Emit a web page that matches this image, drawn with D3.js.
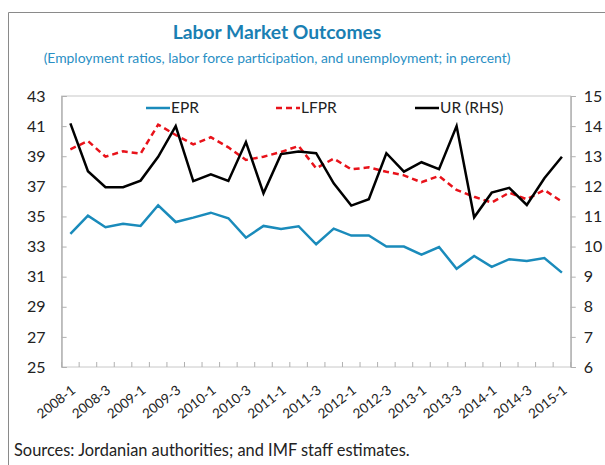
<!DOCTYPE html>
<html>
<head>
<meta charset="utf-8">
<script src="https://cdn.jsdelivr.net/npm/d3@7"></script>
<style>
  body { margin: 0; background: #fff; }
  svg { display: block; font-family: Lato, "Noto Sans", sans-serif; }
</style>
</head>
<body>
<svg id="chart" width="605" height="465"></svg>
<script>
var quarters = ['2008-1','2008-2','2008-3','2008-4','2009-1','2009-2','2009-3','2009-4',
  '2010-1','2010-2','2010-3','2010-4','2011-1','2011-2','2011-3','2011-4',
  '2012-1','2012-2','2012-3','2012-4','2013-1','2013-2','2013-3','2013-4',
  '2014-1','2014-2','2014-3','2014-4','2015-1'];
var epr = [33.84, 35.05, 34.28, 34.52, 34.37, 35.74, 34.63, 34.92, 35.25, 34.88, 33.59, 34.37, 34.17, 34.35,
  33.15, 34.19, 33.73, 33.73, 33.0, 33.0, 32.46, 32.97, 31.53, 32.38, 31.65, 32.16, 32.04, 32.24, 31.27];
var lfpr = [39.46, 40.01, 38.97, 39.33, 39.17, 41.1, 40.41, 39.79, 40.26, 39.59, 38.75, 38.97, 39.28, 39.68,
  38.2, 38.84, 38.13, 38.26, 37.97, 37.73, 37.27, 37.69, 36.76, 36.31, 35.92, 36.58, 36.14, 36.76, 35.98];
var ur = [14.09, 12.5, 11.97, 11.97, 12.19, 12.98, 14.0, 12.17, 12.4, 12.18, 13.47, 11.77, 13.07, 13.16,
  13.1, 12.1, 11.36, 11.57, 13.1, 12.49, 12.8, 12.57, 14.0, 10.97, 11.79, 11.95, 11.38, 12.27, 12.98];
var leftTicks = [25, 27, 29, 31, 33, 35, 37, 39, 41, 43];
var rightTicks = [6, 7, 8, 9, 10, 11, 12, 13, 14, 15];
var xLabels = quarters.filter((q, i) => i % 2 == 0);

var svg = d3.select('#chart');
var m = {left: 61.6, right: 570.7, top: 96, bottom: 367};

// outer frame
svg.append('path')
  .attr('d', 'M8.5,465V12.5H605')
  .attr('fill', 'none').attr('stroke', '#8a8a8a').attr('stroke-width', 1);

svg.append('text')
  .attr('x', 277).attr('y', 39).attr('text-anchor', 'middle')
  .attr('fill', '#1a7fb3').style('font-weight', 'bold').style('font-size', '19.3px')
  .text('Labor Market Outcomes');
svg.append('text')
  .attr('x', 277).attr('y', 63).attr('text-anchor', 'middle')
  .attr('fill', '#2a8fc4').style('font-size', '13.9px')
  .text('(Employment ratios, labor force participation, and unemployment; in percent)');

var x = d3.scaleBand().domain(quarters).range([m.left, m.right]);
var yL = d3.scaleLinear().domain([25, 43]).range([m.bottom, m.top]);
var yR = d3.scaleLinear().domain([6, 15]).range([m.bottom, m.top]);

// plot border
svg.append('rect')
  .attr('x', m.left).attr('y', m.top)
  .attr('width', m.right - m.left).attr('height', m.bottom - m.top)
  .attr('fill', 'none').attr('stroke', '#c8c8c8');

var left = svg.append('g').attr('transform', `translate(${m.left},0)`)
  .call(d3.axisLeft(yL).tickValues(leftTicks).tickSize(-5).tickPadding(16));
var right = svg.append('g').attr('transform', `translate(${m.right},0)`)
  .call(d3.axisRight(yR).tickValues(rightTicks).tickSize(5).tickPadding(8));
[left, right].forEach(g => {
  g.select('.domain').attr('stroke', '#a0a0a0');
  g.selectAll('.tick line').attr('stroke', '#b0b0b0');
  g.selectAll('text').attr('fill', '#222').style('font-size', '16px')
    .style('font-family', 'Lato, "Noto Sans", sans-serif');
});

// bottom ticks at band edges
var edges = quarters.map(q => x(q)).concat([m.right]);
svg.append('g').selectAll('line').data(edges).join('line')
  .attr('x1', d => d).attr('x2', d => d)
  .attr('y1', m.bottom).attr('y2', m.bottom - 5)
  .attr('stroke', '#b0b0b0');

svg.append('g').selectAll('text').data(xLabels).join('text')
  .attr('transform', d => `translate(${x(d) + x.bandwidth() / 2 + 6},${m.bottom + 25}) rotate(-38)`)
  .attr('text-anchor', 'end')
  .attr('fill', '#222').style('font-size', '13.5px')
  .text(d => d);

var cx = (d, i) => x(quarters[i]) + x.bandwidth() / 2;
var lineL = d3.line().x(cx).y(d => yL(d));
var lineR = d3.line().x(cx).y(d => yR(d));

svg.append('path').datum(epr).attr('d', lineL)
  .attr('fill', 'none').attr('stroke', '#1a8bbb').attr('stroke-width', 2.5);
svg.append('path').datum(lfpr).attr('d', lineL)
  .attr('fill', 'none').attr('stroke', '#e8121a').attr('stroke-width', 2.5)
  .attr('stroke-dasharray', '6,4');
svg.append('path').datum(ur).attr('d', lineR)
  .attr('fill', 'none').attr('stroke', '#000').attr('stroke-width', 2.5);

// legend
var legend = [
  {name: 'EPR', color: '#1a8bbb', dash: null, x: 146},
  {name: 'LFPR', color: '#e8121a', dash: '6,4', x: 276},
  {name: 'UR (RHS)', color: '#000', dash: null, x: 415}
];
var lg = svg.append('g').selectAll('g').data(legend).join('g')
  .attr('transform', d => `translate(${d.x},108)`);
lg.append('line').attr('x1', 0).attr('x2', 24)
  .attr('stroke', d => d.color).attr('stroke-width', 2.5)
  .attr('stroke-dasharray', d => d.dash);
lg.append('text').attr('x', 25).attr('y', 5)
  .attr('fill', '#222').style('font-size', '15.5px')
  .text(d => d.name);

svg.append('text')
  .attr('x', 14).attr('y', 456)
  .attr('fill', '#222').style('font-size', '16.4px')
  .text('Sources: Jordanian authorities; and IMF staff estimates.');
</script>
</body>
</html>
